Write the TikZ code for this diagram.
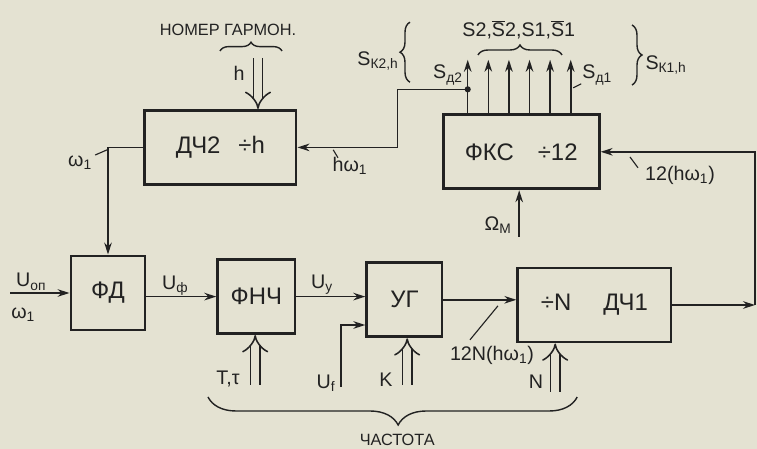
\documentclass[tikz,border=0pt]{standalone}
\usepackage{fontspec}
\setmainfont{Liberation Sans}
\usepackage{xcolor}
\usepackage{tikz}
\usetikzlibrary{arrows.meta, positioning, calc, decorations.pathreplacing}
\definecolor{bumaga}{HTML}{E4E2D2}
\definecolor{tush}{HTML}{222222}
\newcommand{\nadS}{\ensuremath{\overline{\mbox{S}}}}

\begin{document}
\begin{tikzpicture}[
    blok/.style={draw=tush, line width=2.1pt, minimum height=1.85cm, align=center,
                 font=\fontsize{17}{20}\selectfont, text=tush},
    strelka/.style={-{Stealth[length=3mm,width=1.9mm]}, line width=1.1pt, tush},
    dvoinaya/.style={double=bumaga, double distance=5.5pt, line width=1.1pt, draw=tush, -{Implies}},
    podpis/.style={font=\fontsize{14}{16}\selectfont, text=tush, inner sep=1pt},
    melkaya/.style={font=\fontsize{11.6}{13}\selectfont, text=tush},
    tonkaya/.style={line width=0.8pt, tush},
    skobka/.style={decorate, decoration={brace, amplitude=#1}, line width=1pt, tush}
]
    \fill[bumaga] (0,0) rectangle (18.925,11.225);
    \useasboundingbox (0,0) rectangle (18.925,11.225);

    \node[blok, minimum width=3.78cm] (dch2) at (5.51,7.54) {ДЧ2\hspace{0.45cm}÷h};
    \node[blok, minimum width=3.9cm] (fks) at (13.03,7.43) {ФКС\hspace{0.6cm}÷12};
    \node[blok, minimum width=1.85cm] (fd) at (2.70,3.90) {ФД};
    \node[blok, minimum width=1.93cm] (fnch) at (6.41,3.81) {ФНЧ};
    \node[blok, minimum width=1.88cm] (ug) at (10.11,3.73) {УГ};
    \node[blok, minimum width=3.83cm] (dch1) at (14.86,3.60) {÷N\hspace{0.8cm}ДЧ1};

    \coordinate (uin) at (0.25,3.90);
    \coordinate (hsrc) at (6.45,9.78);
    \coordinate (ufsrc) at (8.53,1.55);
    \coordinate (omsrc) at (12.98,5.30);
    \coordinate (povorot) at (18.875,3.60);
    \coordinate (verh) at (0,9.73);
    \coordinate (tsrc) at (6.38,1.60);
    \coordinate (ksrc) at (10.18,1.60);
    \coordinate (nsrc) at (13.88,1.43);

    % связи
    \draw[strelka] (dch2.west) -| (fd.north);
    \draw[strelka] (uin) -- (fd.west);
    \draw[strelka] (fnch.west -| fd.east) -- (fnch.west);
    \draw[strelka] (fnch.east) -- (fnch.east -| ug.west);
    \draw[strelka] (ufsrc) |- ($(ug.west)+(0,-0.63)$);
    \draw[strelka] (ug.east) -- (ug.east -| dch1.west);
    \draw[strelka] (dch1.east) -- (povorot);
    \draw[strelka] (povorot) |- (fks.east);
    \draw[strelka] (omsrc) -- (omsrc |- fks.south);

    % выходы ФКС
    \foreach \i in {0,...,5} {
        \path ($(fks.north west)+(0.65+0.515*\i,0)$) coordinate (vyh\i);
        \draw[strelka] (vyh\i) -- (vyh\i |- verh);
    }
    \coordinate (otvod) at ($(vyh0)+(0,0.6)$);
    \fill[tush] (otvod) circle (2.2pt);
    \draw[strelka] (otvod) -| ($(dch2.east)+(2.5,0)$) -- (dch2.east);

    % двойные входы
    \draw[dvoinaya] (hsrc) -- (hsrc |- dch2.north);
    \draw[dvoinaya] (tsrc) -- (tsrc |- fnch.south);
    \draw[dvoinaya] (ksrc) -- (ksrc |- ug.south);
    \draw[dvoinaya] (nsrc) -- (nsrc |- dch1.south);

    % скобки
    \draw[skobka=0.22cm] (5.50,9.95) -- (7.05,9.95);
    \draw[skobka=0.25cm] (11.95,9.85) -- (14.05,9.85);
    \draw[skobka=0.25cm] (10.25,9.17) -- (10.25,10.67);
    \draw[skobka=0.25cm] (15.80,10.60) -- (15.80,9.10);
    \draw[decorate, decoration={brace, amplitude=0.7cm, aspect=0.485}, line width=1pt, tush]
        (14.43,1.30) -- (5.20,1.30);

    % подписи
    \node[melkaya] (nomer) at (5.70,10.48) {НОМЕР ГАРМОН.};
    \node[podpis] (lh) at (5.98,9.38) {h};
    \node[podpis] (lw1) at (2.00,7.15) {ω\textsubscript{1}};
    \draw[tonkaya] (2.38,7.35) -- (2.68,7.48);
    \node[podpis] (luop) at (0.78,4.18) {U\textsubscript{оп}};
    \node[podpis] (lw0) at (0.58,3.35) {ω\textsubscript{1}};
    \node[podpis] (luf) at (4.38,4.08) {U\textsubscript{ф}};
    \node[podpis] (luy) at (8.05,4.10) {U\textsubscript{у}};
    \node[podpis] (lufr) at (8.15,1.65) {U\textsubscript{f}};
    \node[podpis] (lt) at (5.70,1.75) {T,τ};
    \node[podpis] (lk) at (9.65,1.73) {K};
    \node[podpis] (ln) at (13.40,1.68) {N};
    \node[podpis] (l12n) at (12.30,2.35) {12N(hω\textsubscript{1})};
    \draw[tonkaya] (11.75,2.73) -- (12.45,3.58);
    \node[podpis] (l12) at (17.00,6.83) {12(hω\textsubscript{1})};
    \draw[tonkaya] (15.75,7.30) -- (15.95,7.03);
    \node[podpis] (lom) at (12.45,5.60) {Ω\textsubscript{М}};
    \node[podpis] (lhw) at (8.75,7.08) {hω\textsubscript{1}};
    \draw[tonkaya] (8.33,7.48) -- (8.45,7.28);
    \node[podpis] (lsd2) at (11.20,9.35) {S\textsubscript{д2}};
    \node[podpis] (lsd1) at (14.93,9.35) {S\textsubscript{д1}};
    \draw[tonkaya] (14.33,9.03) -- (14.53,9.13);
    \node[podpis] (lss) at (12.97,10.48) {S2,\nadS2,S1,\nadS1};
    \node[podpis] (lsk2) at (9.45,9.70) {S\textsubscript{К2,h}};
    \node[podpis] (lsk1) at (16.65,9.60) {S\textsubscript{К1,h}};
    \node[melkaya] (chastota) at (9.93,0.23) {ЧАСТОТА};
\end{tikzpicture}
\end{document}
